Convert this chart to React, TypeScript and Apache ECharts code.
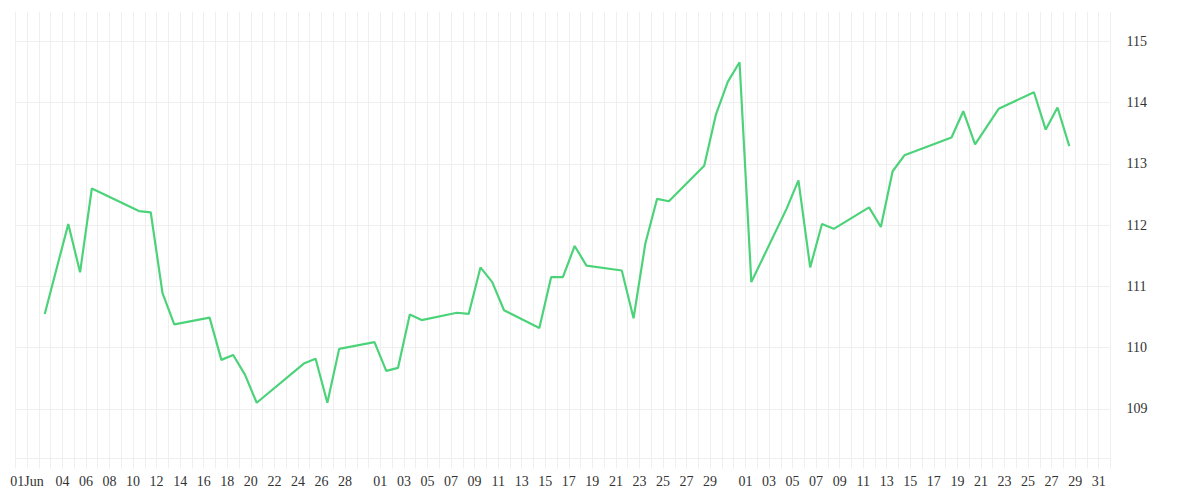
import React, { useEffect, useRef } from "react";
import * as echarts from "echarts";

const YEAR = 2025;

const dates: string[] = [
  "06-02", "06-04", "06-05", "06-06", "06-10", "06-11", "06-12", "06-13",
  "06-16", "06-17", "06-18", "06-19", "06-20", "06-24", "06-25", "06-26",
  "06-27", "06-30", "07-01", "07-02", "07-03", "07-04", "07-07", "07-08",
  "07-09", "07-10", "07-11", "07-14", "07-15", "07-16", "07-17", "07-18",
  "07-21", "07-22", "07-23", "07-24", "07-25", "07-28", "07-29", "07-30",
  "07-31", "08-01", "08-04", "08-05", "08-06", "08-07", "08-08", "08-11",
  "08-12", "08-13", "08-14", "08-18", "08-19", "08-20", "08-22", "08-25",
  "08-26", "08-27", "08-28",
];

const values: number[] = [
  110.55, 112.02, 111.23, 112.6, 112.23, 112.21, 110.89, 110.38,
  110.49, 109.8, 109.88, 109.56, 109.1, 109.74, 109.82, 109.1,
  109.98, 110.09, 109.62, 109.67, 110.54, 110.45, 110.57, 110.55,
  111.31, 111.07, 110.61, 110.32, 111.15, 111.15, 111.66, 111.34,
  111.26, 110.48, 111.7, 112.43, 112.39, 112.97, 113.81, 114.34,
  114.66, 111.07, 112.27, 112.73, 111.31, 112.02, 111.94, 112.29,
  111.97, 112.88, 113.14, 113.43, 113.86, 113.32, 113.9, 114.17,
  113.56, 113.92, 113.29,
];

const tickDates: string[] = [
  "06-01", "06-04", "06-06", "06-08", "06-10", "06-12", "06-14", "06-16",
  "06-18", "06-20", "06-22", "06-24", "06-26", "06-28",
  "07-01", "07-03", "07-05", "07-07", "07-09", "07-11", "07-13", "07-15",
  "07-17", "07-19", "07-21", "07-23", "07-25", "07-27", "07-29",
  "08-01", "08-03", "08-05", "08-07", "08-09", "08-11", "08-13", "08-15",
  "08-17", "08-19", "08-21", "08-23", "08-25", "08-27", "08-29", "08-31",
];

const tickTexts: string[] = [
  "01Jun", "04", "06", "08", "10", "12", "14", "16",
  "18", "20", "22", "24", "26", "28",
  "01", "03", "05", "07", "09", "11", "13", "15",
  "17", "19", "21", "23", "25", "27", "29",
  "01", "03", "05", "07", "09", "11", "13", "15",
  "17", "19", "21", "23", "25", "27", "29", "31",
];

const DAY = 86400000;
const ORIGIN = Date.UTC(YEAR, 5, 1);
function dayIndex(md: string): number {
  const [m, d] = md.split("-").map(Number);
  return Math.round((Date.UTC(YEAR, m - 1, d) - ORIGIN) / DAY);
}

const FONT = "Liberation Serif";
const GRID_COLOR = "#efefef";

export default function App() {
  const ref = useRef<HTMLDivElement>(null);
  useEffect(() => {
    if (!ref.current) return;
    const chart = echarts.init(ref.current, undefined, { renderer: "svg" });
    const labelMap: Record<number, string> = {};
    tickDates.forEach((t, i) => {
      labelMap[dayIndex(t)] = tickTexts[i];
    });
    const seriesData = dates.map((d, i) => [dayIndex(d) + 0.5, values[i]]);
    chart.setOption({
      animation: false,
      backgroundColor: "#ffffff",
      grid: { left: 15.3, right: 89.5, top: 12, bottom: 41.5 },
      xAxis: {
        type: "value",
        min: -1,
        max: 92,
        interval: 1,
        axisLine: { show: true, lineStyle: { color: GRID_COLOR, width: 1 } },
        axisTick: { show: true, length: 10, lineStyle: { color: GRID_COLOR } },
        splitLine: { show: true, lineStyle: { color: GRID_COLOR, width: 1 } },
        axisLabel: {
          margin: 16,
          fontFamily: FONT,
          fontSize: 14,
          color: "#333333",
          formatter: (v: number) => labelMap[Math.round(v)] ?? "",
        },
      },
      yAxis: {
        type: "value",
        position: "right",
        min: 108.19,
        max: 115.48,
        minInterval: 1,
        maxInterval: 1,
        axisLine: { show: false },
        axisTick: { show: false },
        splitLine: {
          show: true,
          showMinLine: false,
          showMaxLine: false,
          lineStyle: { color: GRID_COLOR, width: 1 },
        },
        axisLabel: {
          margin: 16,
          fontFamily: FONT,
          fontSize: 14,
          color: "#333333",
          showMinLabel: false,
          showMaxLabel: false,
        },
      },
      series: [
        {
          type: "line",
          data: seriesData,
          showSymbol: false,
          symbol: "none",
          lineStyle: { color: "#4cd37a", width: 2.2 },
        },
      ],
    });
    return () => chart.dispose();
  }, []);
  return (
    <div
      ref={ref}
      style={{ position: "fixed", left: 0, top: 0, width: 1200, height: 500 }}
    />
  );
}
